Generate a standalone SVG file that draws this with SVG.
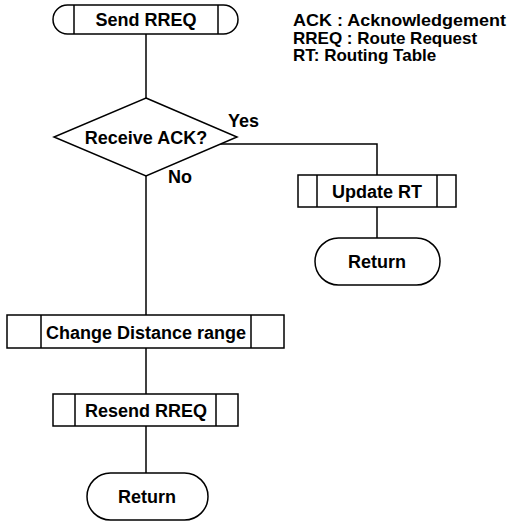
<svg xmlns="http://www.w3.org/2000/svg" width="508" height="521" viewBox="0 0 508 521">
<style>
.s{fill:#fff;stroke:#000;stroke-width:1.5}
.l{fill:none;stroke:#000;stroke-width:1.5}
text{font-family:"Liberation Sans",Arial,sans-serif;font-weight:bold;font-size:18px;fill:#000}
.c{text-anchor:middle}
.g{font-size:17px}
</style>
<rect width="508" height="521" fill="#fff"/>
<g id="connectors">
<line class="l" x1="146" y1="34" x2="146" y2="98"/>
<polyline class="l" points="220,144 377,144 377,175"/>
<line class="l" x1="377" y1="207" x2="377" y2="238"/>
<line class="l" x1="146" y1="176" x2="146" y2="315"/>
<line class="l" x1="146" y1="348" x2="146" y2="394"/>
<line class="l" x1="146" y1="426" x2="146" y2="473"/>
</g>
<g id="send-rreq">
<rect class="s" x="53" y="5" width="185" height="29" rx="14.5"/>
<line class="l" x1="74" y1="5" x2="74" y2="34"/>
<line class="l" x1="218" y1="5" x2="218" y2="34"/>
<text class="c" x="146" y="26">Send RREQ</text>
</g>
<g id="legend">
<text class="g" x="293" y="26" textLength="213" lengthAdjust="spacingAndGlyphs">ACK : Acknowledgement</text>
<text class="g" x="293" y="43.5">RREQ : Route Request</text>
<text class="g" x="293" y="61">RT: Routing Table</text>
</g>
<g id="receive-ack">
<polygon class="s" points="146,98 237,137 146,176 54,137"/>
<text class="c" x="146" y="144">Receive ACK?</text>
</g>
<g id="label-yes"><text x="228" y="127">Yes</text></g>
<g id="label-no"><text x="168" y="183">No</text></g>
<g id="update-rt">
<rect class="s" x="298" y="175" width="158" height="32"/>
<line class="l" x1="317" y1="175" x2="317" y2="207"/>
<line class="l" x1="437" y1="175" x2="437" y2="207"/>
<text class="c" x="377" y="198">Update RT</text>
</g>
<g id="return-right">
<rect class="s" x="315" y="238" width="125" height="47" rx="23.5"/>
<text class="c" x="377" y="268">Return</text>
</g>
<g id="change-distance">
<rect class="s" x="7" y="315" width="277" height="33"/>
<line class="l" x1="41" y1="315" x2="41" y2="348"/>
<line class="l" x1="251" y1="315" x2="251" y2="348"/>
<text class="c" x="146" y="339">Change Distance range</text>
</g>
<g id="resend-rreq">
<rect class="s" x="53" y="394" width="185" height="32"/>
<line class="l" x1="75" y1="394" x2="75" y2="426"/>
<line class="l" x1="216" y1="394" x2="216" y2="426"/>
<text class="c" x="146" y="417">Resend RREQ</text>
</g>
<g id="return-left">
<rect class="s" x="87" y="473" width="121" height="47" rx="23.5"/>
<text class="c" x="147" y="503">Return</text>
</g>
</svg>
